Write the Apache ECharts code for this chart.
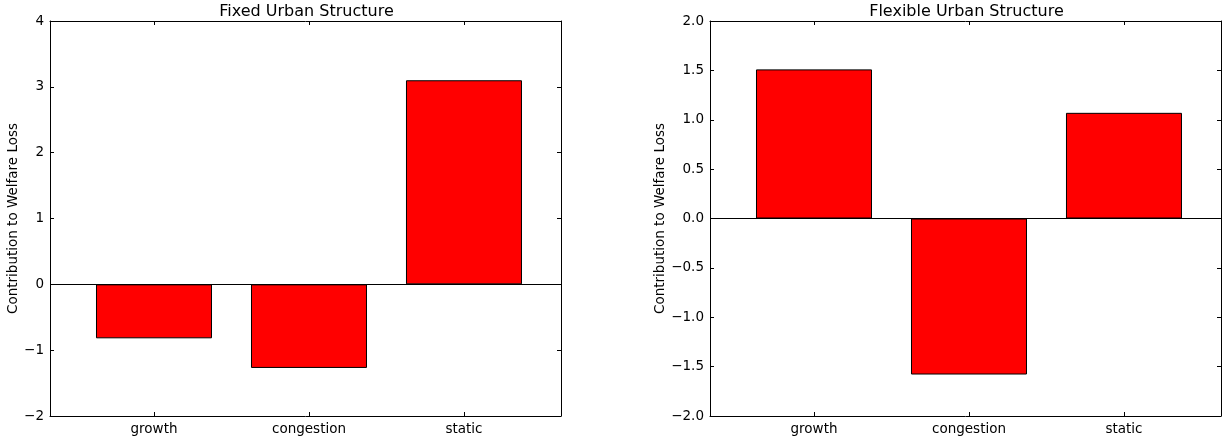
<!DOCTYPE html>
<html>
<head>
<meta charset="utf-8">
<script src="https://cdn.jsdelivr.net/npm/echarts@6/dist/echarts.min.js"></script>
<style>
  html, body { margin: 0; padding: 0; background: #fff; }
  #chart { width: 1226px; height: 442px; }
</style>
</head>
<body>
<div id="chart"></div>
<script>
// Decomposition of welfare loss into its components, for two model variants
const categories = ['growth', 'congestion', 'static'];
const fixedValues = [-0.82, -1.27, 3.10];
const flexibleValues = [1.51, -1.58, 1.07];
const panelTitles = ['Fixed Urban Structure', 'Flexible Urban Structure'];
const yLabel = 'Contribution to Welfare Loss';
const fixedTicks = { min: -2, max: 4, interval: 1 };
const flexibleTicks = { min: -2, max: 2, interval: 0.5 };
// horizontal extent of each panel, in category units
const xLimits = { min: -0.671, max: 2.626 };

const FONT = 'DejaVu Sans';
const black = '#000';
const catIdx = categories.map((_, i) => i);

function fmtMinus(s) { return s.replace('-', '\u2212'); }

const grids = [
  { left: 50, top: 21, width: 511, height: 395 },
  { left: 710, top: 21, width: 511, height: 395 }
];

const xAxes = [];
const yAxes = [];
[fixedTicks, flexibleTicks].forEach((t, g) => {
  const decimals = g === 0 ? 0 : 1;
  ['bottom', 'top'].forEach(pos => {
    xAxes.push({
      type: 'value', gridIndex: g, position: pos,
      min: xLimits.min, max: xLimits.max,
      axisLine: { show: true, onZero: false, lineStyle: { color: black, width: 1 } },
      axisTick: { show: true, inside: true, length: 4, customValues: catIdx, lineStyle: { color: black } },
      axisLabel: pos === 'bottom' ? {
        show: true, customValues: catIdx, margin: 6,
        formatter: v => categories[Math.round(v)] || '',
        color: black, fontFamily: FONT, fontSize: 13.5
      } : { show: false },
      splitLine: { show: false }
    });
  });
  ['left', 'right'].forEach(pos => {
    yAxes.push({
      type: 'value', gridIndex: g, position: pos,
      min: t.min, max: t.max, interval: t.interval,
      name: pos === 'left' ? yLabel : '',
      nameLocation: 'middle', nameGap: g === 0 ? 29 : 42,
      nameTextStyle: { color: black, fontFamily: FONT, fontSize: 13.5 },
      axisLine: { show: true, onZero: false, lineStyle: { color: black, width: 1 } },
      axisTick: { show: true, inside: true, length: 4, lineStyle: { color: black } },
      axisLabel: pos === 'left' ? {
        show: true, margin: 6, color: black, fontFamily: FONT, fontSize: 13.5,
        formatter: v => fmtMinus(v.toFixed(decimals))
      } : { show: false },
      splitLine: { show: false }
    });
  });
});

const series = [fixedValues, flexibleValues].map((vals, g) => ({
  type: 'bar',
  xAxisIndex: g * 2,
  yAxisIndex: g * 2,
  barWidth: 116,
  data: vals.map((v, i) => [i, v]),
  itemStyle: { color: '#ff0000', borderColor: black, borderWidth: 1 },
  markLine: {
    silent: true, symbol: 'none', label: { show: false },
    lineStyle: { color: black, width: 1, type: 'solid' },
    data: [{ yAxis: 0 }]
  }
}));

const chart = echarts.init(document.getElementById('chart'), null, { renderer: 'canvas' });
chart.setOption({
  animation: false,
  backgroundColor: '#fff',
  title: panelTitles.map((txt, g) => ({
    text: txt,
    left: grids[g].left + grids[g].width / 2 - 4,
    top: -1,
    textAlign: 'center',
    textStyle: { fontFamily: FONT, fontSize: 16, fontWeight: 'normal', color: black }
  })),
  grid: grids,
  xAxis: xAxes,
  yAxis: yAxes,
  series: series
});
</script>
</body>
</html>
